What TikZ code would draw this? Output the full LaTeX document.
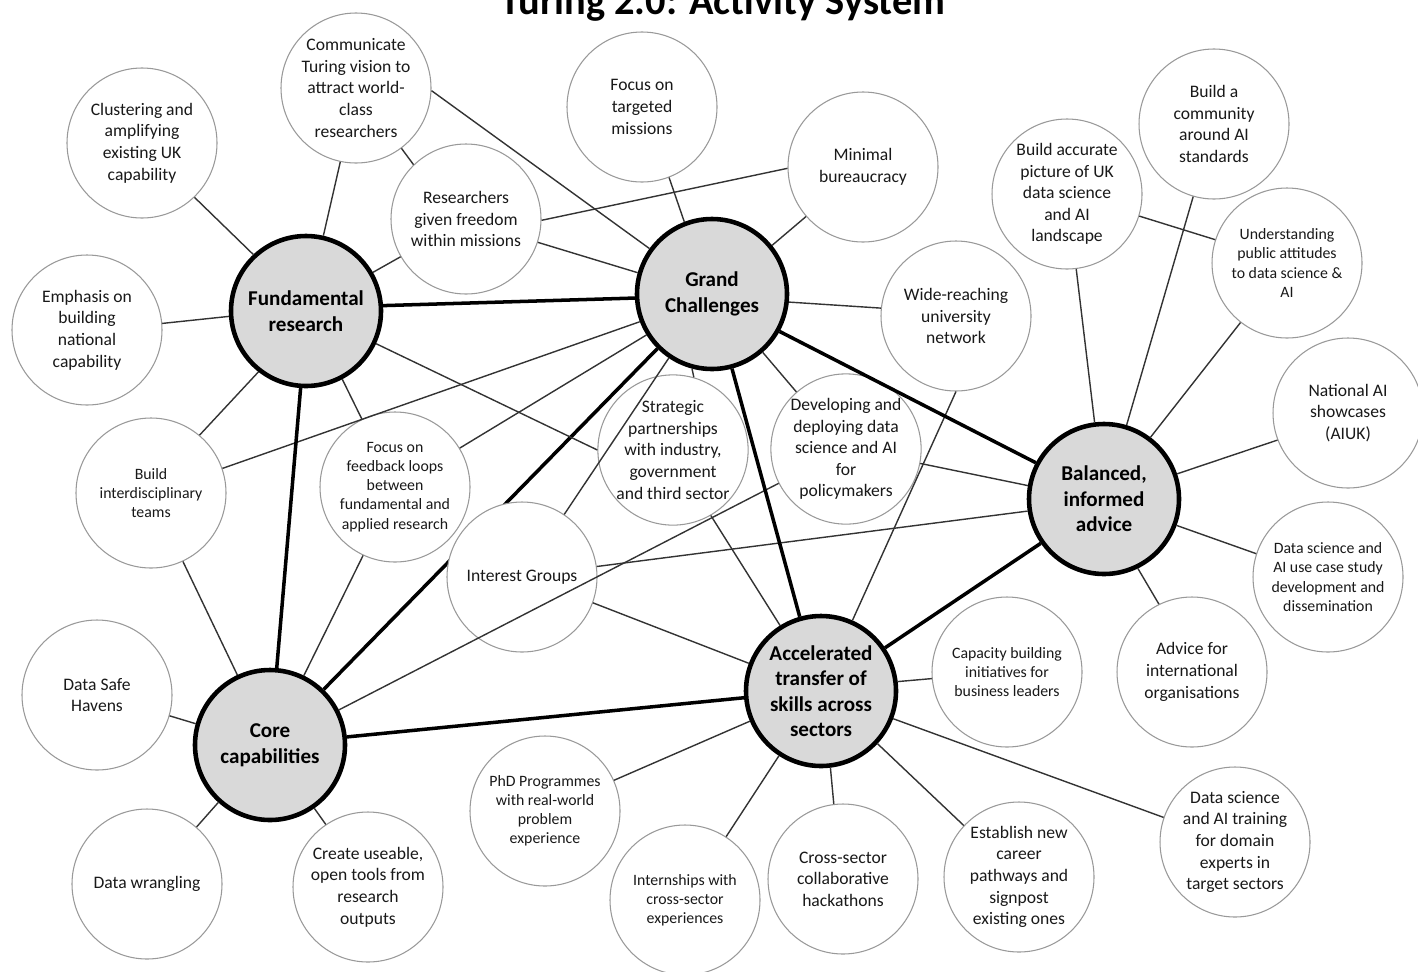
\documentclass[tikz,border=0pt]{standalone}
\usepackage{fontspec}
\setmainfont{Carlito}
\usepackage{tikz}

\begin{document}
\begin{tikzpicture}[x=0.2mm,y=-0.2mm]
 	\def \hubsize{30mm}
 	\def \satsize{30mm}
 	\tikzstyle{hub-node}=[circle,draw=black,line width=2.6pt,fill=black!15,inner sep=0pt,minimum size=\hubsize,align=center,font=\bfseries\fontsize{12}{14.5}\selectfont]
 	\tikzstyle{sat-node}=[circle,draw=black!40,line width=0.6pt,fill=white,inner sep=0pt,minimum size=\satsize,align=center,text=black!90,font=\fontsize{10}{12.3}\selectfont]
 	\tikzstyle{small-node}=[sat-node,font=\fontsize{9}{10.9}\selectfont]
 	\tikzstyle{link}=[draw=black!80,line width=0.8pt]
 	\tikzstyle{hub-link}=[draw=black,line width=2pt]
 	\useasboundingbox (0,0) rectangle (1418,971);
 	% title
 	\node[anchor=base,font=\bfseries\fontsize{23}{27}\selectfont] (title) at (723,14) {Turing 2.0: Activity System};
 	% hubs
 	\node[hub-node] (fr) at (306,311) {Fundamental\\research};
 	\node[hub-node] (gc) at (712,294) {Grand\\Challenges};
 	\node[hub-node] (ba) at (1104,499) {Balanced,\\informed\\advice};
 	\node[hub-node] (at) at (821,691) {Accelerated\\transfer of\\skills across\\sectors};
 	\node[hub-node] (cc) at (270,745) {Core\\capabilities};
 	% link hidden behind interest groups
 	\path[hub-link] (gc.225) edge (cc.46);
 	% satellites
 	\node[sat-node] (clus) at (142,143) {Clustering and\\amplifying\\existing UK\\capability};
 	\node[sat-node] (comm) at (356,88) {Communicate\\Turing vision to\\attract world-\\class\\researchers};
 	\node[sat-node] (resf) at (466,219) {Researchers\\given freedom\\within missions};
 	\node[sat-node] (ftm) at (642,107) {Focus on\\targeted\\missions};
 	\node[sat-node] (minb) at (863,167) {Minimal\\bureaucracy};
 	\node[sat-node] (bacc) at (1067,194) {Build accurate\\picture of UK\\data science\\and AI\\landscape};
 	\node[sat-node] (bcom) at (1214,124) {Build a\\community\\around AI\\standards};
 	\node[small-node] (upub) at (1287,263) {Understanding\\public attitudes\\to data science \&\\AI};
 	\node[sat-node] (wide) at (956,316) {Wide-reaching\\university\\network};
 	\node[sat-node] (emph) at (87,330) {Emphasis on\\building\\national\\capability};
 	\node[small-node] (bint) at (151,493) {Build\\interdisciplinary\\teams};
 	\node[small-node] (ffl) at (395,487) {Focus on\\feedback loops\\between\\fundamental and\\applied research};
 	\node[sat-node] (stp) at (673,450) {Strategic\\partnerships\\with industry,\\government\\and third sector};
 	\node[sat-node] (dev) at (846,449) {Developing and\\deploying data\\science and AI\\for\\policymakers};
 	\node[sat-node] (intg) at (522,577) {Interest Groups};
 	\node[sat-node] (nai) at (1348,413) {National AI\\showcases\\(AIUK)};
 	\node[small-node] (dsu) at (1328,577) {Data science and\\AI use case study\\development and\\dissemination};
 	\node[sat-node] (adv) at (1192,672) {Advice for\\international\\organisations};
 	\node[small-node] (cap) at (1007,672) {Capacity building\\initiatives for\\business leaders};
 	\node[sat-node] (dsh) at (97,695) {Data Safe\\Havens};
 	\node[sat-node] (dwr) at (147,884) {Data wrangling};
 	\node[sat-node] (cut) at (368,887) {Create useable,\\open tools from\\research\\outputs};
 	\node[small-node] (phd) at (545,811) {PhD Programmes\\with real-world\\problem\\experience};
 	\node[small-node] (ints) at (685,900) {Internships with\\cross-sector\\experiences};
 	\node[sat-node] (hack) at (843,879) {Cross-sector\\collaborative\\hackathons};
 	\node[sat-node] (car) at (1019,877) {Establish new\\career\\pathways and\\signpost\\existing ones};
 	\node[sat-node] (dst) at (1235,842) {Data science\\and AI training\\for domain\\experts in\\target sectors};
 	% thin links
 	\path[link] (clus.314)	edge	(fr.133)
 		(comm.258)	edge	(fr.77)
 		(comm.307)	edge	(resf.134)
 		(resf.210)	edge	(fr.30)
 		(emph.5)	edge	(fr.184)
 		(fr.335)	edge	(stp.180)
 		(fr.232)	edge	(bint.50)
 		(fr.298)	edge	(ffl.116)

 		(comm.358)	edge	(gc.144)
 		(resf.359)	edge	(minb.181)
 		(resf.342)	edge	(gc.164)
 		(ftm.291)	edge	(gc.111)
 		(minb.221)	edge	(gc.39)
 		(gc.354)	edge	(wide.174)
 		(bint.19)	edge	(gc.201)
 		(ffl.31)	edge	(gc.212)
 		(gc.236)	edge	(intg.56)
 		(gc.255)	edge	(stp.74)
 		(gc.311)	edge	(dev.131)

 		(stp.300)	edge	(at.122)
 		(dev.207)	edge	(cc.27)
 		(wide.270)	edge	(at.66)
 		(intg.8)	edge	(ba.189)
 		(intg.340)	edge	(at.159)
 		(dev.349)	edge	(ba.170)

 		(ba.19)	edge	(nai.201)
 		(ba.340)	edge	(dsu.162)
 		(ba.296)	edge	(adv.116)
 		(bacc.277)	edge	(ba.97)
 		(bcom.254)	edge	(ba.73)
 		(upub.232)	edge	(ba.53)
 		(bacc.343)	edge	(upub.162)

 		(at.7)	edge	(cap.185)
 		(at.339)	edge	(dst.161)
 		(at.317)	edge	(car.137)
 		(at.277)	edge	(hack.97)
 		(at.237)	edge	(ints.57)
 		(at.203)	edge	(phd.24)

 		(cc.164)	edge	(dsh.344)
 		(cc.228)	edge	(dwr.49)
 		(cc.305)	edge	(cut.124)
 		(bint.295)	edge	(cc.115)
 		(ffl.245)	edge	(cc.64);
 	% hub links
 	\path[hub-link] (fr.266)	edge	(cc.85)
 		(fr.4)	edge	(gc.183)
 		(gc.285)	edge	(at.106)
 		(gc.331)	edge	(ba.152)
 		(ba.215)	edge	(at.34)
 		(cc.6)	edge	(at.185);
\end{tikzpicture}
\end{document}
